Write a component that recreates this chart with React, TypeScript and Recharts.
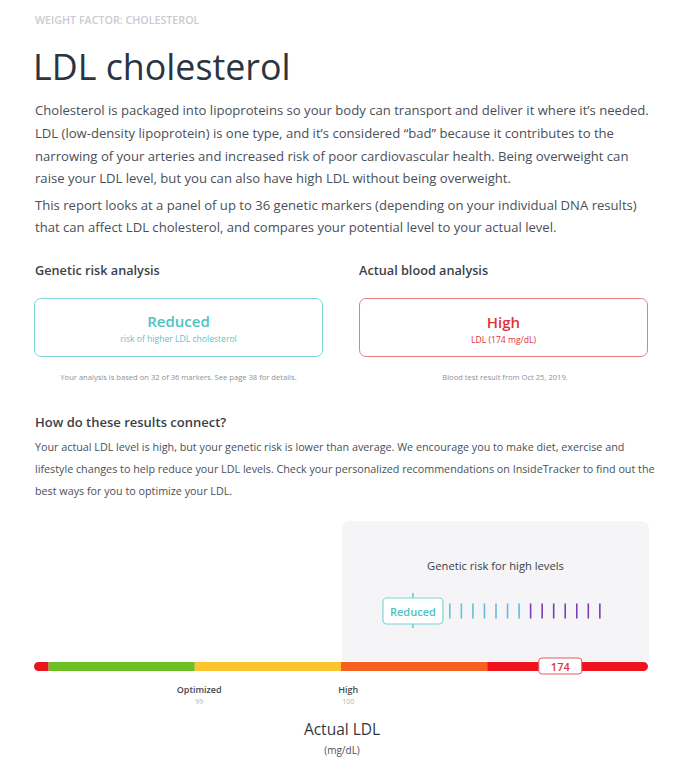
import React from 'react';
import { BarChart, Bar, XAxis, YAxis, ReferenceDot, ScatterChart, Scatter } from 'recharts';

// gauge zones (arbitrary position units along the bar)
const zoneKeys = ['z0', 'z1', 'z2', 'z3', 'z4'];
const zoneWidths = [1, 10, 10, 10, 11];
const zoneColors = ['#e8141f', '#6cc024', '#fcc52e', '#f6611f', '#f0131d'];

const gaugeLabelPos = [11.3, 21.5];
const gaugeLabelNames = ['Optimized', 'High'];
const gaugeLabelValues = ['99', '100'];

const ldlValue = 174;
const ldlPosition = 36;

// genetic risk markers
const geneticMarkerPos = [1, 2, 3, 4, 5, 6, 7, 8, 9, 10, 11, 12, 13, 14];
const geneticMarkerColors = [
  '#62c6c9', '#62c6c9', '#62c2cf', '#64b9e3', '#64b9e3', '#64b9e3', '#64b9e3',
  '#7a3db5', '#7a3db5', '#7a3db5', '#7a3db5', '#7a3db5', '#7a3db5', '#7a3db5',
];
const geneticUserPos = -2.2;
const geneticUserLabel = 'Reduced';

const gaugeRow = [zoneKeys.reduce((acc: any, k, i) => { acc[k] = zoneWidths[i]; return acc; }, { name: 'LDL' })];
const markerData = geneticMarkerPos.map((p, i) => ({ x: p, y: 0.5, color: geneticMarkerColors[i] }));
const userData = [{ x: geneticUserPos, y: 0.5 }];

const FONT = '"Open Sans", sans-serif';

const T = ({ x, y, size, color = '#4a4f57', weight = 400, center, spacing = 0, children }: any) => (
  <div
    style={{
      position: 'absolute',
      left: center ? x - 300 : x,
      width: center ? 600 : undefined,
      textAlign: center ? 'center' : 'left',
      top: y - 15,
      lineHeight: '30px',
      fontSize: size,
      color,
      fontWeight: weight,
      letterSpacing: spacing,
      whiteSpace: 'nowrap',
    }}
  >
    {children}
  </div>
);

const GaugeTick = (props: any) => {
  const i = gaugeLabelPos.indexOf(props.payload.value);
  if (i < 0) return null;
  return (
    <g>
      <text x={props.x} y={props.y + 13} textAnchor="middle" dominantBaseline="central" fontFamily={FONT} fontSize={9} fontWeight={600} fill="#444a52">
        {gaugeLabelNames[i]}
      </text>
      <text x={props.x} y={props.y + 25} textAnchor="middle" dominantBaseline="central" fontFamily={FONT} fontSize={7} fill="#b0b3b8">
        {gaugeLabelValues[i]}
      </text>
    </g>
  );
};

const LdlBadge = (props: any) => {
  const { cx, cy } = props;
  return (
    <g>
      <rect x={cx - 21.5} y={cy - 8} width={43} height={16} rx={3} fill="#fff" stroke="#e25a5e" strokeWidth={1} />
      <text x={cx} y={cy + 0.5} textAnchor="middle" dominantBaseline="central" fontFamily={FONT} fontSize={11} fontWeight={600} fill="#d9363e">
        {ldlValue}
      </text>
    </g>
  );
};

const MarkerLine = (props: any) => (
  <line x1={props.cx} x2={props.cx} y1={props.cy - 7.5} y2={props.cy + 7.5} stroke={props.payload.color} strokeWidth={1.6} />
);

const UserMarker = (props: any) => {
  const { cx, cy } = props;
  return (
    <g>
      <line x1={cx} x2={cx} y1={cy - 18} y2={cy + 17} stroke="#5cc8c8" strokeWidth={1.5} />
      <rect x={cx - 30} y={cy - 13} width={60} height={26} rx={4} fill="#fff" stroke="#7fd3d3" strokeWidth={1.2} />
      <text x={cx} y={cy} textAnchor="middle" dominantBaseline="central" fontFamily={FONT} fontSize={11} fontWeight={600} fill="#4cc3c3">
        {geneticUserLabel}
      </text>
    </g>
  );
};

export default function App() {
  return (
    <div style={{ position: 'absolute', left: 0, top: 0, width: 678, height: 770, background: '#fff', fontFamily: FONT, overflow: 'hidden' }}>
      <T x={35} y={20} size={10.7} weight={600} color="#c9cbd1">WEIGHT FACTOR: CHOLESTEROL</T>
      <T x={33} y={66} size={35.8} color="#2b3440">LDL cholesterol</T>

      <T x={35} y={110} size={13.1}>Cholesterol is packaged into lipoproteins so your body can transport and deliver it where it’s needed.</T>
      <T x={35} y={133} size={13.1}>LDL (low-density lipoprotein) is one type, and it’s considered “bad” because it contributes to the</T>
      <T x={35} y={156} size={13.1}>narrowing of your arteries and increased risk of poor cardiovascular health. Being overweight can</T>
      <T x={35} y={178} size={13.1}>raise your LDL level, but you can also have high LDL without being overweight.</T>
      <T x={35} y={205} size={13.1}>This report looks at a panel of up to 36 genetic markers (depending on your individual DNA results)</T>
      <T x={35} y={227} size={13.1}>that can affect LDL cholesterol, and compares your potential level to your actual level.</T>

      <T x={35} y={270} size={12.7} weight={600} color="#3a3f47">Genetic risk analysis</T>
      <T x={359} y={270} size={12.7} weight={600} color="#3a3f47">Actual blood analysis</T>

      <div style={{ position: 'absolute', left: 34, top: 298, width: 289, height: 59, boxSizing: 'border-box', border: '1.5px solid #7fd6d6', borderRadius: 7 }} />
      <div style={{ position: 'absolute', left: 359, top: 298, width: 289, height: 59, boxSizing: 'border-box', border: '1.5px solid #eb7b7e', borderRadius: 7 }} />
      <T x={178.5} y={321} size={15} weight={600} color="#4ec3c3" center>Reduced</T>
      <T x={178.5} y={339} size={8.6} color="#5cc6c6" center>risk of higher LDL cholesterol</T>
      <T x={503.5} y={322} size={15} weight={600} color="#e0313a" center>High</T>
      <T x={503.5} y={340} size={8.6} color="#e0313a" center>LDL (174 mg/dL)</T>
      <T x={178.5} y={377} size={7.6} color="#8e9198" center>Your analysis is based on 32 of 36 markers. See page 38 for details.</T>
      <T x={505} y={377} size={7.6} color="#8e9198" center>Blood test result from Oct 25, 2019.</T>

      <T x={35} y={422} size={13} weight={600} color="#3a3f47">How do these results connect?</T>
      <T x={35} y={447} size={10.75}>Your actual LDL level is high, but your genetic risk is lower than average. We encourage you to make diet, exercise and</T>
      <T x={35} y={469} size={10.75}>lifestyle changes to help reduce your LDL levels. Check your personalized recommendations on InsideTracker to find out the</T>
      <T x={35} y={491} size={10.75}>best ways for you to optimize your LDL.</T>

      <div style={{ position: 'absolute', left: 342, top: 521, width: 307, height: 140, background: '#f5f4f6', borderRadius: '8px 8px 0 0' }} />
      <T x={495.5} y={566} size={11.2} weight={500} color="#3a3f47" center>Genetic risk for high levels</T>

      <div style={{ position: 'absolute', left: 342, top: 590 }}>
        <ScatterChart width={307} height={42} margin={{ top: 0, right: 3, bottom: 0, left: 4 }}>
          <XAxis type="number" dataKey="x" domain={[-8, 18]} hide />
          <YAxis type="number" dataKey="y" domain={[0, 1]} hide />
          <Scatter data={markerData} shape={MarkerLine} isAnimationActive={false} />
          <Scatter data={userData} shape={UserMarker} isAnimationActive={false} />
        </ScatterChart>
      </div>

      <div style={{ position: 'absolute', left: 0, top: 656 }}>
        <BarChart width={678} height={60} layout="vertical" data={gaugeRow} margin={{ top: 0, right: 30, bottom: 0, left: 34 }}>
          <XAxis
            type="number"
            domain={[0, 42]}
            ticks={gaugeLabelPos}
            tick={GaugeTick}
            axisLine={false}
            tickLine={false}
            tickSize={0}
            tickMargin={0}
            height={40}
            interval={0}
          />
          <YAxis type="category" dataKey="name" hide />
          {zoneKeys.map((k, i) => (
            <Bar
              key={k}
              dataKey={k}
              stackId="g"
              fill={zoneColors[i]}
              barSize={9}
              radius={i === 0 ? [4.5, 0, 0, 4.5] : i === zoneKeys.length - 1 ? [0, 4.5, 4.5, 0] : 0}
              isAnimationActive={false}
            />
          ))}
          <ReferenceDot x={ldlPosition} y="LDL" shape={LdlBadge} ifOverflow="visible" />
        </BarChart>
      </div>

      <T x={342} y={729} size={15.5} color="#333840" center>Actual LDL</T>
      <T x={342} y={750} size={10} color="#4a4f57" center>(mg/dL)</T>
    </div>
  );
}
